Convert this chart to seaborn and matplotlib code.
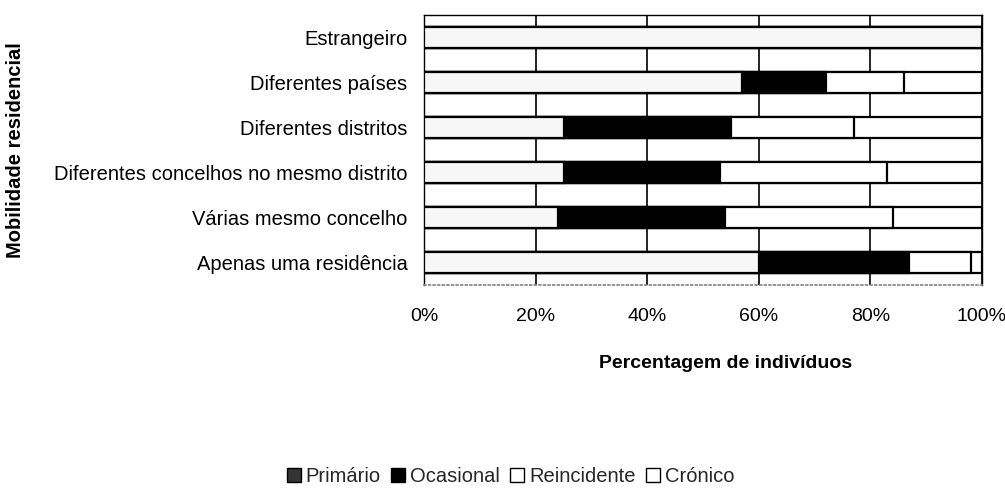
import matplotlib
matplotlib.use("Agg")
import matplotlib.pyplot as plt
import seaborn as sns
import pandas as pd
from matplotlib.patches import Patch

categories = [
    "Estrangeiro",
    "Diferentes países",
    "Diferentes distritos",
    "Diferentes concelhos no mesmo distrito",
    "Várias mesmo concelho",
    "Apenas uma residência",
]
series = ["Primário", "Ocasional", "Reincidente", "Crónico"]

primario = [100, 57, 25, 25, 24, 60]
ocasional = [0, 15, 30, 28, 30, 27]
reincidente = [0, 14, 22, 30, 30, 11]
cronico = [0, 14, 23, 17, 16, 2]

colors = {"Primário": "#f7f7f7", "Ocasional": "#000000",
          "Reincidente": "#ffffff", "Crónico": "#ffffff"}

sns.set_theme(style="white")
plt.rcParams["font.family"] = ["Liberation Sans", "DejaVu Sans"]

df = pd.DataFrame({"categoria": categories, "Primário": primario,
                   "Ocasional": ocasional, "Reincidente": reincidente,
                   "Crónico": cronico})
cum = df[series].cumsum(axis=1)

fig = plt.figure(figsize=(10.05, 4.91), dpi=100)
ax = fig.add_axes([0.422, 0.42, 0.555, 0.549])

# stacked bars: draw cumulative totals from the outside in
for s in reversed(series):
    sns.barplot(x=cum[s], y=df["categoria"], orient="h", color=colors[s],
                edgecolor="black", linewidth=1.6, width=0.48, saturation=1,
                ax=ax, zorder=3)

ax.set_xlim(0, 100)
ax.set_xticks([0, 20, 40, 60, 80, 100])
ax.set_xticklabels(["0%", "20%", "40%", "60%", "80%", "100%"])
ax.grid(axis="x", color="black", linewidth=1.2, zorder=0)
ax.set_axisbelow(True)
ax.tick_params(axis="x", length=0, pad=17, labelsize=14, colors="black")
ax.tick_params(axis="y", length=0, pad=12, labelsize=14.5, colors="black")

for side in ["left", "top", "right"]:
    ax.spines[side].set_color("black")
    ax.spines[side].set_linewidth(1.0)
ax.spines["bottom"].set_color("#888888")
ax.spines["bottom"].set_linestyle(":")

ax.set_xlabel("Percentagem de indivíduos", fontsize=14, fontweight="bold",
              color="black")
ax.xaxis.set_label_coords(0.54, -0.26)
ax.set_ylabel("Mobilidade residencial", fontsize=14.5, fontweight="bold",
              color="black")
ax.yaxis.set_label_coords(-0.715, 0.5)

handles = [Patch(facecolor=colors[s], edgecolor="black", label=s) for s in series]
handles[0] = Patch(facecolor="#333333", edgecolor="black", label=series[0])
fig.legend(handles=handles, loc="lower center", bbox_to_anchor=(0.508, 0.002),
           ncol=4, frameon=False, fontsize=14.5, handlelength=0.7,
           handleheight=0.7, handletextpad=0.25, columnspacing=0.5,
           borderaxespad=0.1, borderpad=0.1)

fig.savefig("out.png", dpi=100)
